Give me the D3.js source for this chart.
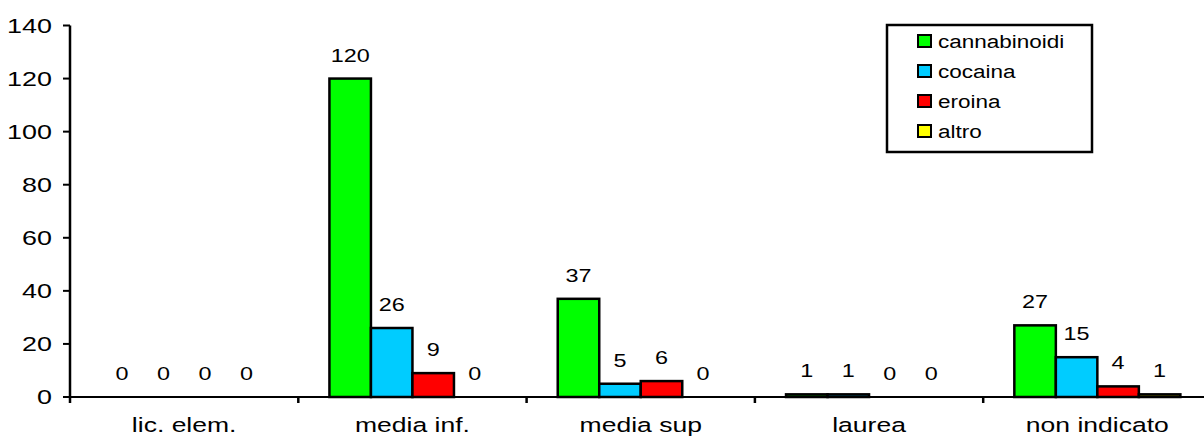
<!DOCTYPE html>
<html>
<head>
<meta charset="utf-8">
<script src="https://cdn.jsdelivr.net/npm/d3@7"></script>
<style>
  html, body { margin: 0; padding: 0; background: #fff; }
  svg { display: block; }
  text { font-family: "Liberation Sans", Arial, sans-serif; fill: #000; }
</style>
</head>
<body>
<svg id="chart" width="1204" height="437"></svg>
<script>
const categories = ["lic. elem.", "media inf.", "media sup", "laurea", "non indicato"];
const seriesNames = ["cannabinoidi", "cocaina", "eroina", "altro"];
const cannabinoidi = [0, 120, 37, 1, 27];
const cocaina = [0, 26, 5, 1, 15];
const eroina = [0, 9, 6, 0, 4];
const altro = [0, 0, 0, 0, 1];
const yTicks = [0, 20, 40, 60, 80, 100, 120, 140];
const colors = ["#00ff00", "#00ccff", "#ff0000", "#ffff00"];

const series = [cannabinoidi, cocaina, eroina, altro];

const svg = d3.select("#chart");
const x0 = 70, x1 = 1211.5, yBottom = 397, yTop = 25.5;

const x = d3.scaleBand().domain(categories).range([x0, x1]).paddingInner(0).paddingOuter(0);
const bw = x.bandwidth() / 5.5;
const xs = d3.scaleBand().domain(seriesNames).range([bw * 0.75, bw * 4.75]).padding(0);
const y = d3.scaleLinear().domain([0, 140]).range([yBottom, yTop]);

// Bars
const rows = [];
categories.forEach((c, i) => {
  seriesNames.forEach((s, j) => {
    rows.push({ c, s, j, v: series[j][i] });
  });
});

svg.append("g").selectAll("rect")
  .data(rows.filter(d => d.v > 0))
  .join("rect")
  .attr("x", d => x(d.c) + xs(d.s))
  .attr("y", d => y(d.v))
  .attr("width", xs.bandwidth())
  .attr("height", d => y(0) - y(d.v))
  .attr("fill", d => colors[d.j])
  .attr("stroke", "#000")
  .attr("stroke-width", 2.5);

// Value labels
svg.append("g").selectAll("text")
  .data(rows)
  .join("text")
  .attr("transform", d => `translate(${x(d.c) + xs(d.s) + xs.bandwidth() / 2},${y(d.v) - 17}) scale(1.3,1)`)
  .attr("text-anchor", "middle")
  .attr("font-size", 18)
  .text(d => d.v);

// Y axis
const yAxis = svg.append("g");
yAxis.append("line")
  .attr("x1", x0).attr("x2", x0)
  .attr("y1", y(140)).attr("y2", yBottom + 6)
  .attr("stroke", "#000").attr("stroke-width", 2.5);
yAxis.selectAll("line.tick")
  .data(yTicks).join("line").attr("class", "tick")
  .attr("x1", x0 - 7).attr("x2", x0)
  .attr("y1", d => y(d)).attr("y2", d => y(d))
  .attr("stroke", "#000").attr("stroke-width", 2);
yAxis.selectAll("text")
  .data(yTicks).join("text")
  .attr("transform", d => `translate(${x0 - 18},${y(d) + 7}) scale(1.38,1)`)
  .attr("text-anchor", "end")
  .attr("font-size", 19.5)
  .text(d => d);

// X axis
const xAxis = svg.append("g");
xAxis.append("line")
  .attr("x1", x0).attr("x2", 1204)
  .attr("y1", yBottom).attr("y2", yBottom)
  .attr("stroke", "#000").attr("stroke-width", 2);
const boundaries = categories.map(c => x(c)).filter(v => v > x0);
xAxis.selectAll("line.tick")
  .data(boundaries).join("line").attr("class", "tick")
  .attr("x1", d => d).attr("x2", d => d)
  .attr("y1", yBottom).attr("y2", yBottom + 6)
  .attr("stroke", "#000").attr("stroke-width", 2.5);
xAxis.selectAll("text")
  .data(categories).join("text")
  .attr("transform", d => `translate(${x(d) + x.bandwidth() / 2},${yBottom + 35}) scale(1.36,1)`)
  .attr("text-anchor", "middle")
  .attr("font-size", 19.5)
  .text(d => d);

// Legend
const lg = svg.append("g");
lg.append("rect")
  .attr("x", 887).attr("y", 25).attr("width", 205).attr("height", 127)
  .attr("fill", "#fff").attr("stroke", "#000").attr("stroke-width", 2.5);
const items = lg.selectAll("g.item").data(seriesNames).join("g").attr("class", "item")
  .attr("transform", (d, i) => `translate(918,${41 + i * 30})`);
items.append("rect")
  .attr("x", 0).attr("y", -6).attr("width", 13).attr("height", 12)
  .attr("fill", (d, i) => colors[i]).attr("stroke", "#000").attr("stroke-width", 2);
items.append("text")
  .attr("transform", `translate(20,6.5) scale(1.25,1)`)
  .attr("font-size", 18)
  .text(d => d);
</script>
</body>
</html>
